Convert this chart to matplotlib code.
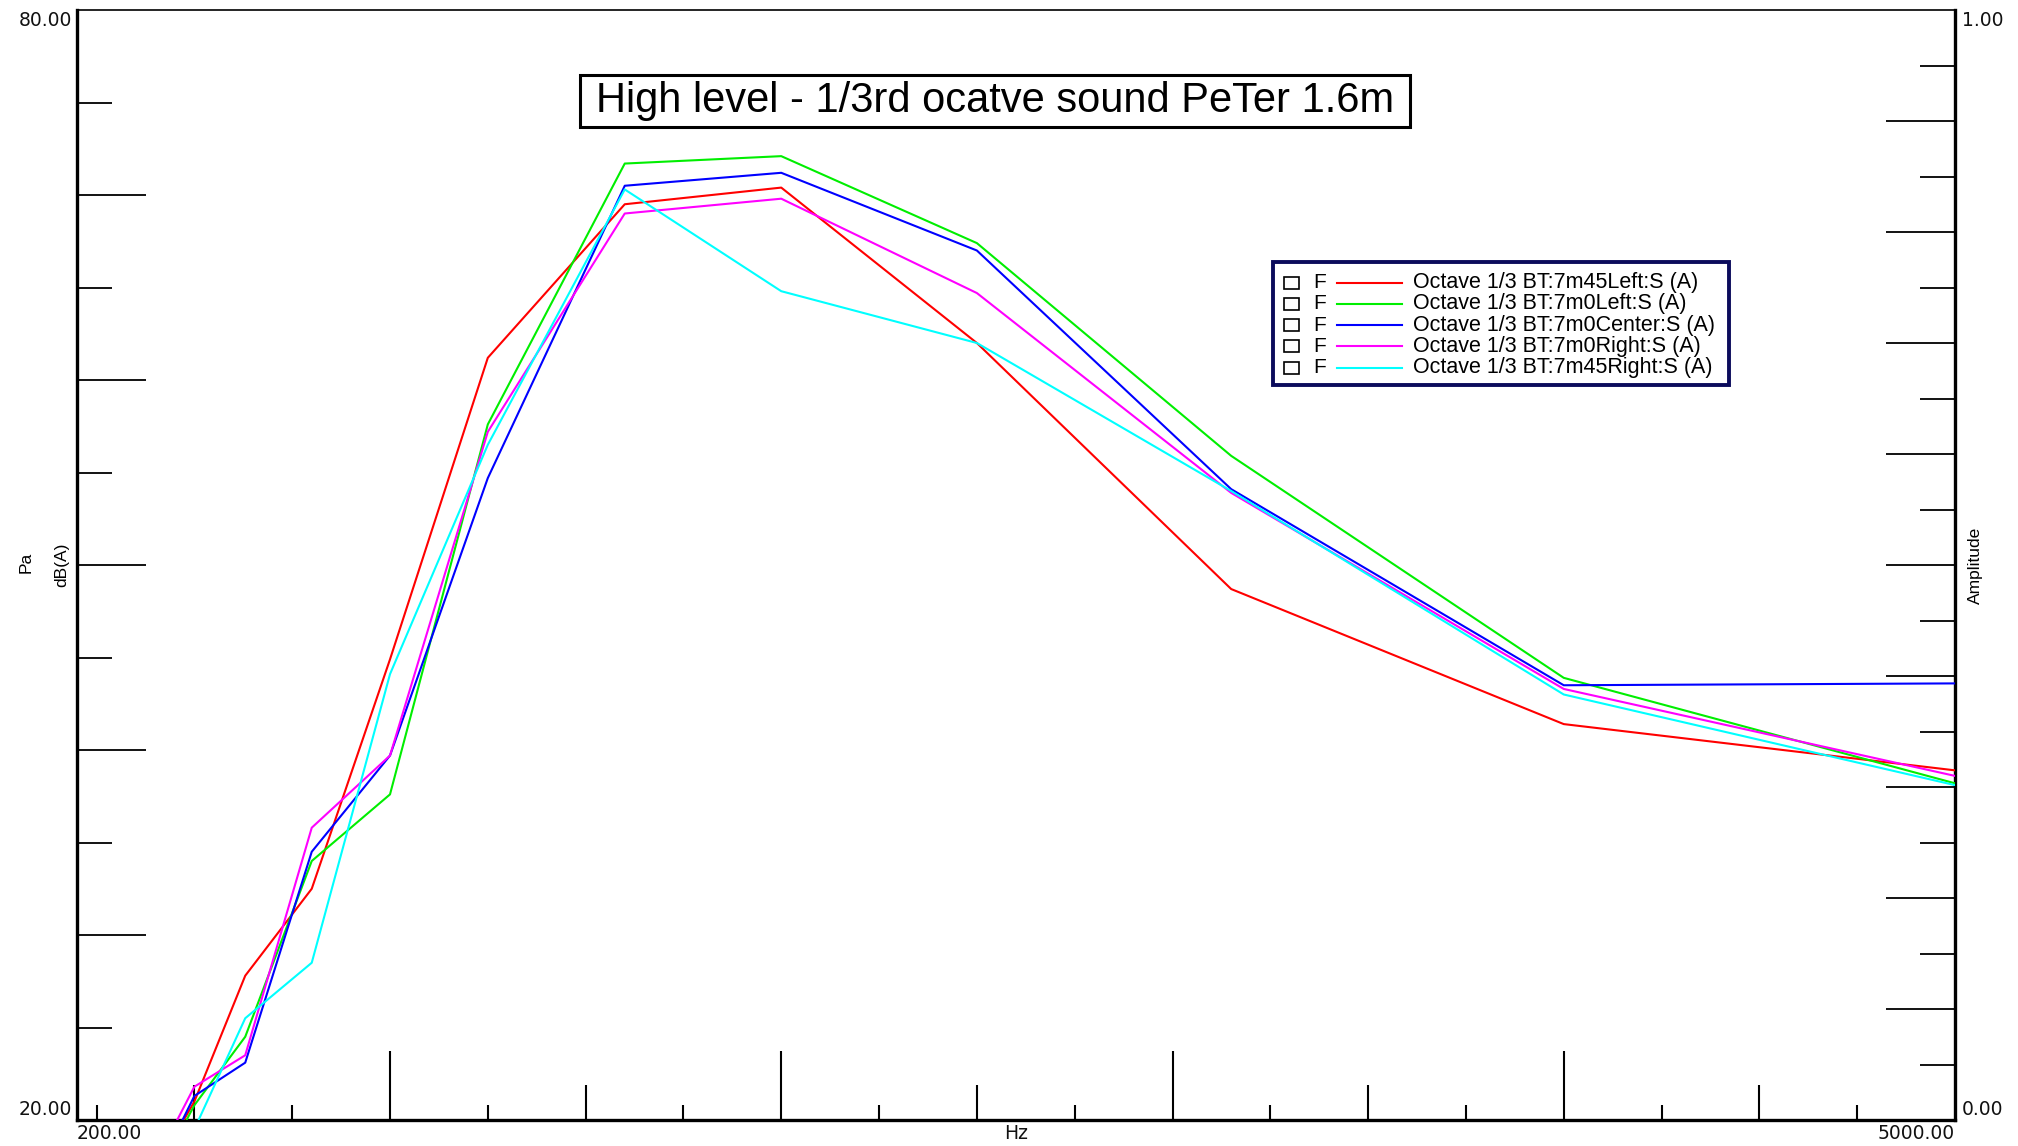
import matplotlib
matplotlib.use('Agg')
import matplotlib.pyplot as plt
from matplotlib import font_manager
from matplotlib.patches import Rectangle
from matplotlib.ticker import FixedLocator

# 1/3 octave band centre frequencies (Hz) and levels in dB(A)
FREQS_HZ = [400, 500, 630, 800, 1000, 1250, 1600, 2000, 2500, 3150, 4000, 5000]
LEFT_45 = [17.3, 21.0, 27.8, 32.5, 44.9, 61.2, 69.5, 70.4, 62.0, 48.7, 41.4, 38.9]
LEFT_0 = [16.8, 20.8, 24.5, 34.0, 37.6, 57.6, 71.7, 72.1, 67.4, 55.9, 43.9, 38.2]
CENTER_0 = [17.0, 21.3, 23.1, 34.5, 39.7, 54.7, 70.5, 71.2, 67.0, 54.1, 43.5, 43.6]
RIGHT_0 = [17.7, 21.8, 23.5, 35.8, 39.7, 57.2, 69.0, 69.8, 64.7, 53.9, 43.3, 38.6]
RIGHT_45 = [16.0, 19.5, 25.5, 28.5, 44.1, 56.5, 70.3, 64.8, 62.0, 54.0, 43.0, 38.1]

SERIES = [LEFT_45, LEFT_0, CENTER_0, RIGHT_0, RIGHT_45]
LABELS = ['Octave 1/3 BT:7m45Left:S (A)', 'Octave 1/3 BT:7m0Left:S (A)',
          'Octave 1/3 BT:7m0Center:S (A)', 'Octave 1/3 BT:7m0Right:S (A)',
          'Octave 1/3 BT:7m45Right:S (A)']
COLORS = ['#ff0000', '#00ee00', '#0000ff', '#ff00ff', '#00ffff']

TITLE = 'High level - 1/3rd ocatve sound PeTer 1.6m'
X_RANGE = (200, 5000)
Y_RANGE = (20, 80)
AMP_RANGE = (0.0, 1.0)

# figure geometry in pixels
W, H = 2018, 1146
AX_L, AX_R, AX_T, AX_B = 77, 1955, 10, 1120


def pick_font(names):
    have = {f.name for f in font_manager.fontManager.ttflist}
    for n in names:
        if n in have:
            return n
    return 'DejaVu Sans'


NARROW = pick_font(['Liberation Sans Narrow', 'DejaVu Sans Condensed', 'Liberation Sans'])
NARROW_SIZE = 14 if NARROW != 'Liberation Sans' else 12.5
ARIAL = pick_font(['Liberation Sans', 'Arial'])


def frac(px, py):
    """full-image pixel -> axes fraction"""
    return (px - AX_L) / (AX_R - AX_L), (AX_B - py) / (AX_B - AX_T)


fig = plt.figure(figsize=(W / 100, H / 100), dpi=100)
ax = fig.add_axes([AX_L / W, (H - AX_B) / H, (AX_R - AX_L) / W, (AX_B - AX_T) / H])

for vals, color in zip(SERIES, COLORS):
    ax.plot(FREQS_HZ, vals, color=color, lw=1.5, zorder=3)

ax.set_xlim(*X_RANGE)
ax.set_ylim(*Y_RANGE)

# spines
for side in ['left', 'bottom', 'right']:
    ax.spines[side].set_linewidth(2.4)
ax.spines['top'].set_linewidth(1.2)

# x ticks: three lengths (1000s, 500s, 250s)
ax.xaxis.set_major_locator(FixedLocator(list(range(1000, 5000, 1000))))
ax.xaxis.set_minor_locator(FixedLocator([500] + list(range(1500, 5000, 1000))))
ax.tick_params(axis='x', which='major', direction='in', length=50, width=1.5, labelbottom=False)
ax.tick_params(axis='x', which='minor', direction='in', length=25, width=1.5, labelbottom=False)

tiny = ax.twiny()
tiny.set_xlim(*X_RANGE)
tiny.xaxis.set_ticks_position('bottom')
tiny.xaxis.set_major_locator(FixedLocator(list(range(250, 5000, 500))))
tiny.xaxis.set_minor_locator(FixedLocator([]))
tiny.tick_params(axis='x', which='major', direction='in', length=11, width=1.5,
                 labelbottom=False, labeltop=False)
for s in tiny.spines.values():
    s.set_visible(False)

# left y ticks
ax.yaxis.set_major_locator(FixedLocator(list(range(30, 80, 10))))
ax.yaxis.set_minor_locator(FixedLocator(list(range(25, 80, 10))))
ax.tick_params(axis='y', which='major', direction='in', length=50, width=1.3, labelleft=False)
ax.tick_params(axis='y', which='minor', direction='in', length=25, width=1.3, labelleft=False)

# right amplitude axis
amp = ax.twinx()
amp.set_ylim(*AMP_RANGE)
amp.yaxis.set_major_locator(FixedLocator([i / 10 for i in range(1, 10)]))
amp.yaxis.set_minor_locator(FixedLocator([i / 20 for i in range(1, 20, 2)]))
amp.tick_params(axis='y', which='major', direction='in', length=50, width=1.3, labelright=False)
amp.tick_params(axis='y', which='minor', direction='in', length=25, width=1.3, labelright=False)
for s in amp.spines.values():
    s.set_visible(False)

# end labels on the axes
tick_font = dict(fontsize=13.5, family='DejaVu Sans', color='#111111')
ax.text(0.0, -0.0126, f'{X_RANGE[0]:.2f}', transform=ax.transAxes, ha='left', va='center', **tick_font)
ax.text(1.0, -0.0126, f'{X_RANGE[1]:.2f}', transform=ax.transAxes, ha='right', va='center', **tick_font)
ax.text(0.5, -0.0126, 'Hz', transform=ax.transAxes, ha='center', va='center', **tick_font)
ax.text(-0.0027, 0.9905, f'{Y_RANGE[1]:.2f}', transform=ax.transAxes, ha='right', va='center', **tick_font)
ax.text(-0.0027, 0.0099, f'{Y_RANGE[0]:.2f}', transform=ax.transAxes, ha='right', va='center', **tick_font)
ax.text(1.0037, 0.9905, f'{AMP_RANGE[1]:.2f}', transform=ax.transAxes, ha='left', va='center', **tick_font)
ax.text(1.0037, 0.0099, f'{AMP_RANGE[0]:.2f}', transform=ax.transAxes, ha='left', va='center', **tick_font)

# axis names
side_font = dict(fontsize=NARROW_SIZE, family=NARROW, rotation=90, ha='center', va='center')
fig.text(26 / W, 1 - 562 / H, 'Pa', **side_font)
fig.text(62 / W, 1 - 565 / H, 'dB(A)', **side_font)
fig.text(1975 / W, 1 - 565 / H, 'Amplitude', **side_font)

# title box
x0, y0 = frac(580, 127)
x1, y1 = frac(1410, 75)
ax.add_patch(Rectangle((x0, y0), x1 - x0, y1 - y0, transform=ax.transAxes,
                       facecolor='white', edgecolor='black', lw=2.2, zorder=5))
ax.text((x0 + x1) / 2, (y0 + y1) / 2, TITLE, transform=ax.transAxes, ha='center', va='center',
        fontsize=30, family=ARIAL, zorder=6)

# legend box
lx0, ly0 = frac(1273, 385)
lx1, ly1 = frac(1729, 262)
ax.add_patch(Rectangle((lx0, ly0), lx1 - lx0, ly1 - ly0, transform=ax.transAxes,
                       facecolor='white', edgecolor='#0b0b5c', lw=2.8, zorder=5))
for i, (label, color) in enumerate(zip(LABELS, COLORS)):
    row_y = 282.5 + 21.3 * i
    bx0, by0 = frac(1284, row_y + 6)
    bx1, by1 = frac(1299, row_y - 6)
    ax.add_patch(Rectangle((bx0, by0), bx1 - bx0, by1 - by0, transform=ax.transAxes,
                           facecolor='white', edgecolor='black', lw=1.2, zorder=6))
    fx, fy = frac(1313, row_y)
    ax.text(fx, fy, 'F', transform=ax.transAxes, ha='left', va='center',
            fontsize=15, family=ARIAL, zorder=6)
    sx0, sy = frac(1337, row_y)
    sx1, _ = frac(1402, row_y)
    ax.plot([sx0, sx1], [sy, sy], transform=ax.transAxes, color=color, lw=1.5, zorder=6)
    tx, ty = frac(1413, row_y)
    ax.text(tx, ty, label, transform=ax.transAxes, ha='left', va='center',
            fontsize=15.5, family=ARIAL, zorder=6)

fig.savefig('out.png', dpi=100)
